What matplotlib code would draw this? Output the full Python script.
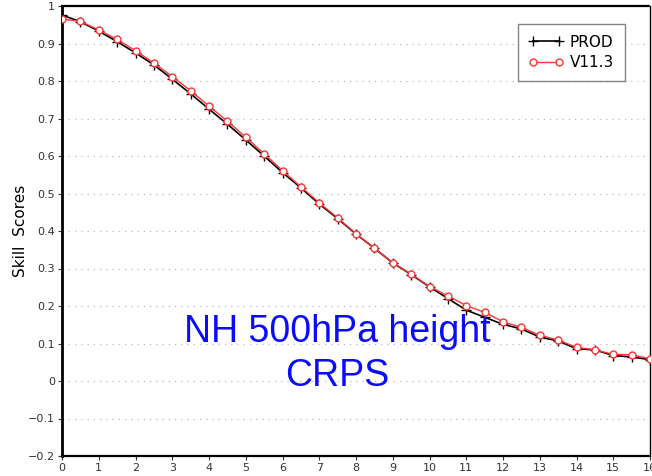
import matplotlib
matplotlib.use("Agg")
import matplotlib.pyplot as plt
import numpy as np

days = [0, 0.5, 1, 1.5, 2, 2.5, 3, 3.5, 4, 4.5, 5, 5.5, 6, 6.5, 7, 7.5, 8,
        8.5, 9, 9.5, 10, 10.5, 11, 11.5, 12, 12.5, 13, 13.5, 14, 14.5, 15, 15.5, 16]
prod = [0.976, 0.958, 0.933, 0.905, 0.875, 0.843, 0.805, 0.766, 0.725, 0.685,
        0.643, 0.600, 0.556, 0.515, 0.472, 0.433, 0.392, 0.354, 0.315, 0.284,
        0.251, 0.220, 0.189, 0.170, 0.151, 0.139, 0.117, 0.107, 0.086, 0.083,
        0.068, 0.064, 0.057]
v113 = [0.965, 0.959, 0.936, 0.911, 0.881, 0.848, 0.812, 0.774, 0.733, 0.693,
        0.650, 0.606, 0.561, 0.518, 0.475, 0.435, 0.393, 0.354, 0.315, 0.285,
        0.252, 0.227, 0.201, 0.183, 0.158, 0.143, 0.122, 0.109, 0.090, 0.083,
        0.071, 0.070, 0.059]
xticks = list(range(0, 17))
yticks = [-0.2, -0.1, 0, 0.1, 0.2, 0.3, 0.4, 0.5, 0.6, 0.7, 0.8, 0.9, 1]
ytick_labels = ["\u22120.2", "\u22120.1", "0", "0.1", "0.2", "0.3", "0.4", "0.5",
                "0.6", "0.7", "0.8", "0.9", "1"]

fig = plt.figure(figsize=(6.52, 4.76), dpi=100)
ax = fig.add_axes([62/652, 20/476, 588/652, 450/476])

for yv in yticks[1:-1]:
    ax.axhline(yv, color="#bbbbbb", linestyle=(0, (1, 4)), linewidth=0.9, zorder=0)

ax.plot(days, prod, color="black", linewidth=1.2, marker="+", markersize=7,
        markeredgewidth=1.0, label="PROD", zorder=3)
ax.plot(days, v113, color="#ff3333", linewidth=1.0, marker="o", markersize=5,
        markerfacecolor="white", markeredgecolor="#ff3333", markeredgewidth=1.0,
        label="V11.3", zorder=4)

ax.set_xlim(0, 16)
ax.set_ylim(-0.2, 1)
ax.set_xticks(xticks)
ax.set_xticklabels([str(t) for t in xticks])
ax.set_yticks(yticks)
ax.set_yticklabels(ytick_labels)
ax.tick_params(axis="both", labelsize=8, colors="#333333", length=3, width=0.8,
               direction="out", pad=2)

ax.spines["left"].set_linewidth(2.0)
ax.spines["right"].set_linewidth(1.0)
ax.spines["top"].set_linewidth(1.6)
ax.spines["bottom"].set_linewidth(1.6)
ax.spines["top"].set_linestyle((0, (4, 1)))
ax.spines["bottom"].set_linestyle((0, (4, 1)))

ax.set_ylabel("Skill  Scores", fontsize=11, labelpad=0)

ax.text(0.468, 0.275, "NH 500hPa height", transform=ax.transAxes, color="#0a0aff",
        fontsize=27, family="Liberation Sans", ha="center", va="center")
ax.text(0.468, 0.178, "CRPS", transform=ax.transAxes, color="#0a0aff",
        fontsize=27, family="Liberation Sans", ha="center", va="center")

leg = ax.legend(loc="upper right", bbox_to_anchor=(0.957, 0.96), fontsize=11,
                frameon=True, fancybox=False, numpoints=2, handlelength=2.3,
                borderpad=0.7, borderaxespad=0, handletextpad=0.4,
                labelspacing=0.35)
leg.get_frame().set_edgecolor("#666666")
leg.get_frame().set_linewidth(1.0)

fig.savefig("out.png", dpi=100)
